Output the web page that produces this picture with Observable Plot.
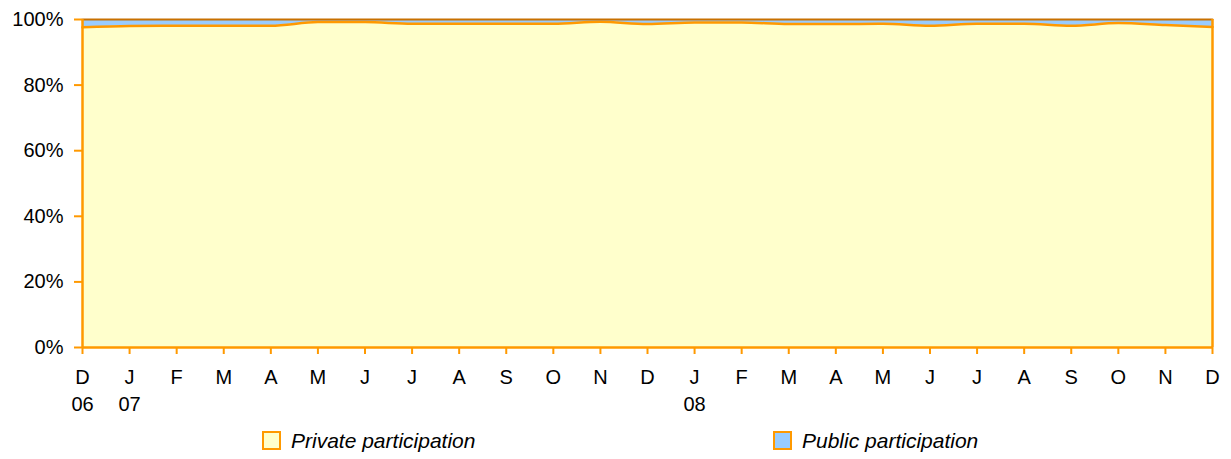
<!DOCTYPE html>
<html><head><meta charset="utf-8">
<script src="https://cdn.jsdelivr.net/npm/d3@7"></script>
<script src="https://cdn.jsdelivr.net/npm/@observablehq/plot@0.6"></script>
<style>
body{margin:0;background:#fff;font-family:"Liberation Sans",Arial,sans-serif;}
#legend{position:relative;height:44px;font-style:italic;font-size:21px;}
.item{position:absolute;top:15px;display:flex;align-items:center;line-height:21px;}
.sw{width:19px;height:19px;box-sizing:border-box;border:2px solid #FF9900;margin-right:10px;}
</style></head>
<body><div id="chart"></div>
<div id="legend">
<div class="item" style="left:262px"><div class="sw" style="background:#FFFFCC"></div>Private participation</div>
<div class="item" style="left:773px"><div class="sw" style="background:#99CCFF"></div>Public participation</div>
</div>
<script>
const months = ["D","J","F","M","A","M","J","J","A","S","O","N","D","J","F","M","A","M","J","J","A","S","O","N","D"];
const years = ["06","07","","","","","","","","","","","","08","","","","","","","","","","",""];
const privateShare = [97.6,98.0,98.1,98.1,98.1,99.2,99.2,98.7,98.7,98.7,98.7,99.3,98.6,99.1,99.1,98.6,98.6,98.7,98.1,98.7,98.7,98.1,98.9,98.3,97.7];
const yTicks = [0,20,40,60,80,100];

const data = privateShare.map((p,i)=>({i, private:p, total:100}));
const orange = "#FF9900";
const chart = Plot.plot({
  width:1231, height:415,
  marginLeft:82, marginRight:19, marginTop:19, marginBottom:68,
  style:{fontFamily:"'Liberation Sans', Arial, sans-serif", fontSize:"20px", color:"#000"},
  x:{type:"linear", domain:[0,24]},
  y:{domain:[0,100]},
  marks:[
    Plot.areaY(data,{x:"i", y1:"private", y2:"total", fill:"#99CCFF", curve:"monotone-x"}),
    Plot.areaY(data,{x:"i", y1:0, y2:"private", fill:"#FFFFCC", curve:"monotone-x"}),
    Plot.lineY(data,{x:"i", y:"private", stroke:orange, strokeWidth:2.5, curve:"monotone-x"}),
    Plot.lineY(data,{x:"i", y:"total", stroke:"#C87000", strokeWidth:2}),
    Plot.ruleX([24],{stroke:orange, strokeWidth:2.5}),
    Plot.ruleX([0],{stroke:orange, strokeWidth:2.5}),
    Plot.ruleY([0],{stroke:orange, strokeWidth:2.5}),
    Plot.axisY({ticks:yTicks, tickFormat:d=>d+"%", tickSize:8, tickPadding:11, stroke:orange, fill:"#000", strokeWidth:2, label:null, fontSize:20}),
    Plot.axisX({ticks:d3.range(25), tickFormat:i=>years[i]?months[i]+"\n"+years[i]:months[i], tickSize:7, tickPadding:10, lineHeight:1.37, stroke:orange, fill:"#000", strokeWidth:2, label:null, fontSize:20})
  ]
});
document.getElementById("chart").appendChild(chart);
</script></body></html>
